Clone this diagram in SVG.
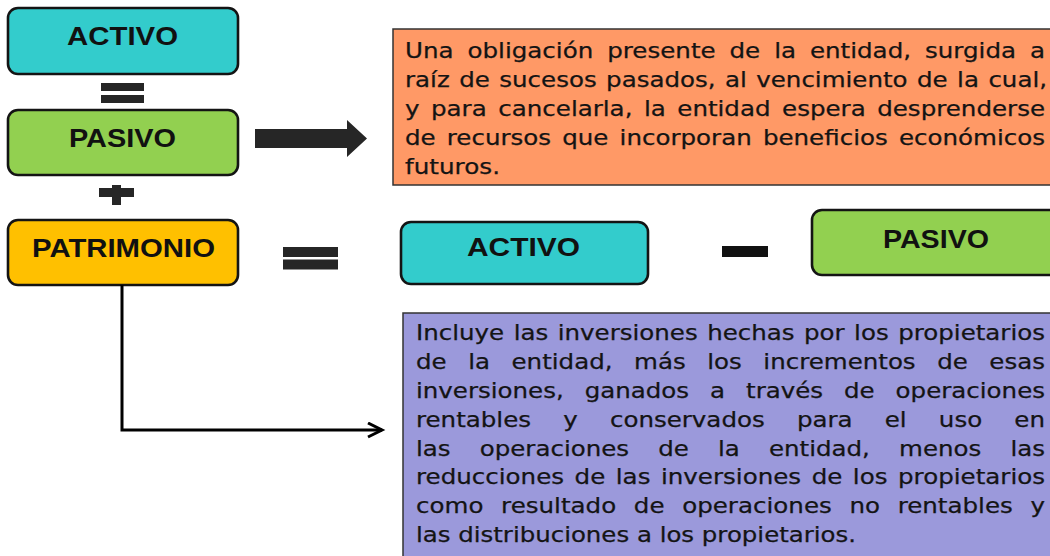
<svg xmlns="http://www.w3.org/2000/svg" width="1050" height="556" viewBox="0 0 1050 556">
<style>
.box{stroke:#141414;stroke-width:2.6}
.lbl{font-family:"Liberation Sans",Arial,sans-serif;font-weight:bold;font-size:25px;fill:#111;text-anchor:start}
.txt{font-family:"DejaVu Sans",Verdana,sans-serif;font-size:20.5px;fill:#141414;stroke:#141414;stroke-width:0.25}
.op{fill:#262626}
.teal{fill:#33CCCC}
.green{fill:#92D050}
.gold{fill:#FFC000}
</style>
<defs>
<marker id="chev" markerUnits="userSpaceOnUse" markerWidth="20" markerHeight="20" refX="15" refY="8" orient="auto">
<polyline points="1,1 15,8 1,15" fill="none" stroke="#000" stroke-width="3" stroke-linejoin="miter"/>
</marker>
</defs>
<rect width="1050" height="556" fill="#fff"/>

<g id="activo1">
<rect class="box teal" x="8" y="8" width="230" height="66" rx="10"/>
<text class="lbl" x="67" y="45" textLength="111" lengthAdjust="spacingAndGlyphs">ACTIVO</text>
</g>
<g id="equals1" class="op">
<rect x="101" y="83" width="43" height="8"/>
<rect x="101" y="95" width="43" height="8"/>
</g>
<g id="pasivo1">
<rect class="box green" x="8" y="110" width="230" height="65" rx="10"/>
<text class="lbl" x="69" y="146.5" textLength="107" lengthAdjust="spacingAndGlyphs">PASIVO</text>
</g>
<g id="plus" class="op">
<rect x="99" y="188" width="35" height="9"/>
<rect x="112" y="185" width="9" height="20"/>
</g>
<g id="patrimonio">
<rect class="box gold" x="8" y="220" width="230" height="65" rx="10"/>
<text class="lbl" x="32" y="257" textLength="183" lengthAdjust="spacingAndGlyphs">PATRIMONIO</text>
</g>
<g id="equals2" class="op">
<rect x="283" y="247" width="55" height="10"/>
<rect x="283" y="259.5" width="55" height="10"/>
</g>
<g id="activo2">
<rect class="box teal" x="401" y="222" width="247" height="62" rx="10"/>
<text class="lbl" x="467" y="256" textLength="113" lengthAdjust="spacingAndGlyphs">ACTIVO</text>
</g>
<g id="minus" class="op">
<rect x="722" y="246" width="46" height="11" fill="#111"/>
</g>
<g id="pasivo2">
<rect class="box green" x="812" y="210" width="260" height="65" rx="10"/>
<text class="lbl" x="883" y="248" textLength="106" lengthAdjust="spacingAndGlyphs">PASIVO</text>
</g>

<g id="def-pasivo">
<rect x="393" y="29" width="680" height="156" fill="#FF9966" stroke="#333" stroke-width="1.5"/>
<text class="txt" x="405" y="58" textLength="640" lengthAdjust="spacingAndGlyphs" style="word-spacing:5.1px">Una obligación presente de la entidad, surgida a</text>
<text class="txt" x="405" y="87" textLength="642" lengthAdjust="spacingAndGlyphs" style="word-spacing:1.4px">raíz de sucesos pasados, al vencimiento de la cual,</text>
<text class="txt" x="405" y="116" textLength="640" lengthAdjust="spacingAndGlyphs" style="word-spacing:3.1px">y para cancelarla, la entidad espera desprenderse</text>
<text class="txt" x="405" y="145" textLength="640" lengthAdjust="spacingAndGlyphs" style="word-spacing:2.8px">de recursos que incorporan beneficios económicos</text>
<text class="txt" x="405" y="174" textLength="95" lengthAdjust="spacingAndGlyphs">futuros.</text>
</g>

<g id="def-patrimonio">
<rect x="403" y="313" width="670" height="260" fill="#9B99DB" stroke="#333" stroke-width="1.5"/>
<text class="txt" x="416" y="340" textLength="629" lengthAdjust="spacingAndGlyphs" style="word-spacing:1.4px">Incluye las inversiones hechas por los propietarios</text>
<text class="txt" x="416" y="369" textLength="629" lengthAdjust="spacingAndGlyphs" style="word-spacing:11.5px">de la entidad, más los incrementos de esas</text>
<text class="txt" x="416" y="397.5" textLength="629" lengthAdjust="spacingAndGlyphs" style="word-spacing:11px">inversiones, ganados a través de operaciones</text>
<text class="txt" x="416" y="426.5" textLength="629" lengthAdjust="spacingAndGlyphs" style="word-spacing:20.4px">rentables y conservados para el uso en</text>
<text class="txt" x="416" y="455.5" textLength="629" lengthAdjust="spacingAndGlyphs" style="word-spacing:17.9px">las operaciones de la entidad, menos las</text>
<text class="txt" x="416" y="484" textLength="629" lengthAdjust="spacingAndGlyphs" style="word-spacing:2.3px">reducciones de las inversiones de los propietarios</text>
<text class="txt" x="416" y="513" textLength="629" lengthAdjust="spacingAndGlyphs" style="word-spacing:8.2px">como resultado de operaciones no rentables y</text>
<text class="txt" x="416" y="541.5" textLength="440" lengthAdjust="spacingAndGlyphs">las distribuciones a los propietarios.</text>
</g>

<g id="connectors">
<polygon class="op" points="255,129 347,129 347,120 367,138.5 347,157 347,148 255,148"/>
<path d="M122,285 V430 H382" fill="none" stroke="#000" stroke-width="3" marker-end="url(#chev)"/>
</g>
</svg>
